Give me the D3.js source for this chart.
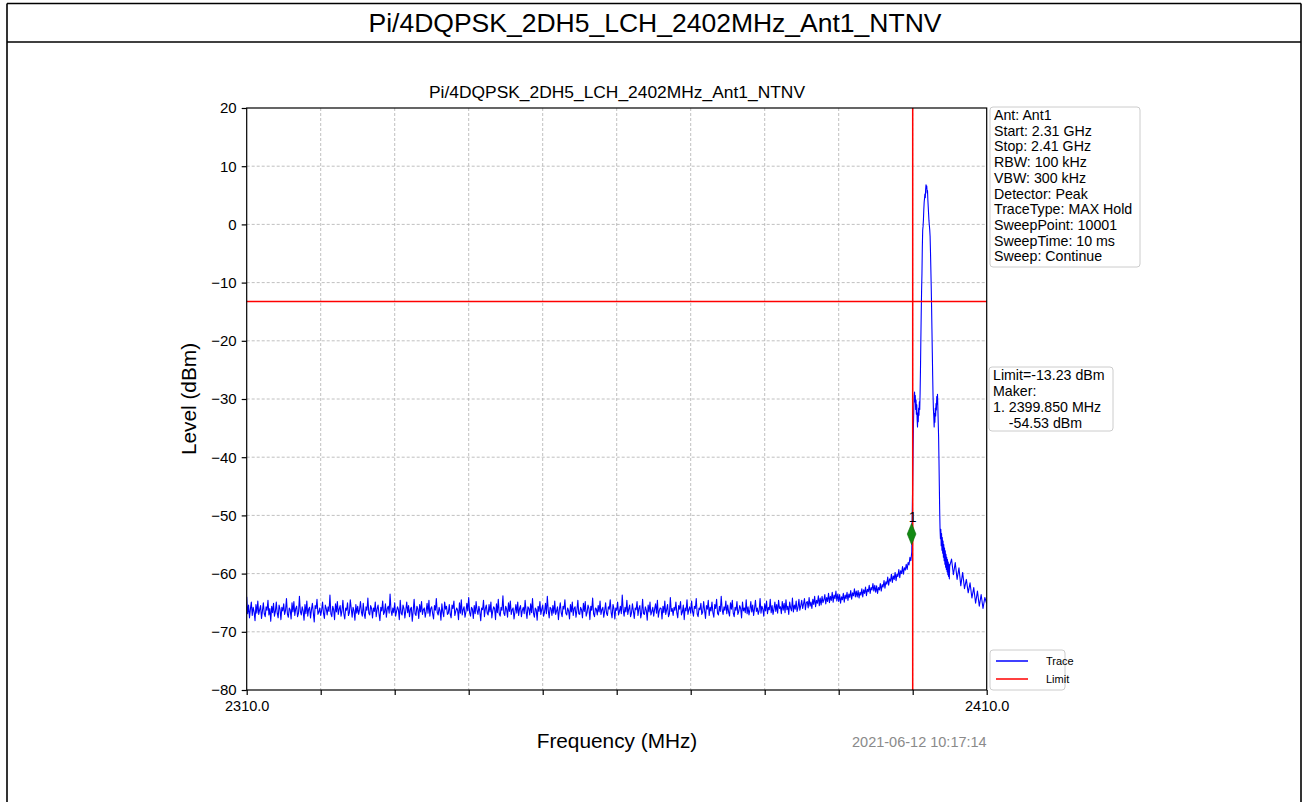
<!DOCTYPE html>
<html>
<head>
<meta charset="utf-8">
<script src="https://cdn.jsdelivr.net/npm/d3@7"></script>
<style>
  html, body { margin: 0; padding: 0; background: #fff; }
  svg { display: block; font-family: "Liberation Sans", Arial, Helvetica, sans-serif; }
</style>
</head>
<body>
<svg id="chart" width="1308" height="802"></svg>
<script>
// ---------------- DATA ----------------
const pageTitle = "Pi/4DQPSK_2DH5_LCH_2402MHz_Ant1_NTNV";
const chartTitle = "Pi/4DQPSK_2DH5_LCH_2402MHz_Ant1_NTNV";
const xLabel = "Frequency (MHz)";
const yLabel = "Level (dBm)";
const timestamp = "2021-06-12 10:17:14";

const xDomain = [2310, 2410];
const yDomain = [-80, 20];
const xTicks = [2310, 2320, 2330, 2340, 2350, 2360, 2370, 2380, 2390, 2400, 2410];
const xTickLabels = ["2310.0", "", "", "", "", "", "", "", "", "", "2410.0"];
const yTicks = [-80, -70, -60, -50, -40, -30, -20, -10, 0, 10, 20];

const limitLevel = -13.23;
const bandEdgeFreq = 2400.0;
const markerFreq = [2399.85];
const markerLevel = [-53.2];
const markerLabel = ["1"];

const infoLines = ["Ant: Ant1", "Start: 2.31 GHz", "Stop: 2.41 GHz", "RBW: 100 kHz", "VBW: 300 kHz",
  "Detector: Peak", "TraceType: MAX Hold", "SweepPoint: 10001", "SweepTime: 10 ms", "Sweep: Continue"];
const limitLines = ["Limit=-13.23 dBm", "Maker:", "1. 2399.850 MHz", "    -54.53 dBm"];
const legendNames = ["Trace", "Limit"];

// Trace, segment 1 (noise floor): 2310.000 .. 2399.875 MHz, 0.125 MHz apart
const lowStart = 2310, lowStep = 0.125;
const lowLevels = [
  -64.0,-66.9,-65.4,-67.6,-66.1,-64.9,-67.2,-65.8,-66.6,-68.1,-65.3,-66.8,-64.7,-67.0,-66.2,-65.5,-67.7,-66.4,-65.0,-66.9,
  -67.4,-65.7,-66.3,-64.6,-67.1,-66.0,-68.2,-65.6,-66.7,-65.1,-67.3,-66.5,-64.9,-66.8,-67.6,-65.4,-66.1,-67.9,-65.8,-66.4,
  -65.2,-67.0,-66.3,-64.3,-66.9,-67.5,-65.9,-66.2,-67.8,-65.0,-66.6,-64.8,-67.2,-66.0,-65.6,-67.4,-66.8,-63.9,-66.5,-67.1,
  -65.7,-66.4,-68.0,-65.3,-66.9,-64.7,-67.3,-66.1,-65.8,-67.6,-66.2,-65.1,-66.7,-68.3,-65.5,-66.0,-64.4,-67.0,-66.6,-65.9,
  -67.2,-66.3,-64.9,-66.8,-67.7,-65.4,-66.0,-67.1,-65.7,-66.5,-63.7,-66.9,-67.4,-65.6,-66.2,-67.9,-65.2,-66.6,-64.8,-67.0,
  -66.1,-65.5,-67.3,-66.4,-64.6,-66.9,-67.8,-65.9,-66.3,-65.0,-67.2,-66.7,-64.5,-66.0,-67.5,-65.8,-66.4,-68.0,-65.3,-66.8,
  -65.6,-67.0,-66.2,-64.8,-66.6,-67.3,-65.1,-66.9,-67.7,-65.7,-66.3,-64.2,-66.8,-67.1,-65.5,-66.0,-67.6,-65.9,-66.5,-64.9,
  -67.4,-66.1,-65.4,-66.9,-68.1,-65.8,-66.4,-64.7,-67.0,-66.6,-65.2,-67.5,-66.0,-65.6,-66.8,-63.5,-66.3,-67.2,-65.9,-66.7,
  -65.0,-67.3,-66.5,-65.7,-66.2,-67.9,-64.6,-66.8,-67.1,-65.4,-66.0,-67.6,-66.3,-64.9,-66.7,-65.5,-67.4,-66.1,-65.8,-68.2,
  -66.4,-64.4,-66.9,-67.2,-65.6,-66.1,-67.7,-65.3,-66.6,-64.8,-67.0,-66.2,-65.9,-67.5,-66.5,-65.1,-66.8,-64.6,-67.3,-66.0,
  -65.7,-66.9,-67.8,-65.5,-66.3,-64.3,-66.7,-67.1,-65.8,-66.4,-68.0,-65.2,-66.6,-67.4,-64.9,-66.1,-65.6,-67.0,-66.8,-65.3,
  -66.9,-67.6,-65.4,-66.0,-64.7,-67.2,-66.5,-65.9,-66.3,-67.9,-65.0,-66.8,-64.5,-67.1,-66.2,-65.7,-67.5,-66.6,-65.1,-66.4,
  -64.1,-66.7,-67.3,-65.8,-66.1,-67.7,-65.5,-66.9,-64.8,-66.3,-67.0,-65.6,-66.5,-68.1,-65.9,-66.2,-64.6,-67.4,-66.0,-65.4,
  -66.8,-67.1,-65.3,-66.6,-64.9,-67.6,-66.4,-65.7,-66.0,-67.9,-65.2,-66.7,-64.4,-66.9,-67.3,-65.8,-66.3,-63.8,-66.8,-67.2,
  -65.6,-66.1,-67.5,-65.0,-66.5,-64.7,-67.0,-66.2,-65.9,-67.8,-66.6,-65.3,-66.8,-64.9,-67.2,-66.0,-65.5,-67.4,-66.3,-65.8,
  -66.9,-64.6,-66.4,-67.7,-65.7,-66.0,-67.1,-65.2,-66.7,-64.3,-66.8,-67.5,-65.9,-66.2,-68.0,-65.6,-66.5,-64.8,-67.0,-66.1,
  -65.4,-67.3,-66.6,-65.1,-66.9,-63.9,-66.3,-67.6,-65.8,-66.0,-67.2,-65.5,-66.8,-64.7,-67.0,-66.4,-65.7,-67.9,-66.2,-65.0,
  -66.7,-67.4,-65.6,-66.1,-64.5,-66.8,-67.1,-65.9,-66.4,-67.8,-65.3,-66.6,-64.9,-67.2,-66.0,-65.7,-67.5,-66.3,-64.6,-66.9,
  -67.0,-65.8,-66.2,-67.6,-65.1,-66.5,-64.8,-67.3,-66.7,-65.4,-66.0,-67.9,-65.6,-66.3,-64.2,-66.9,-67.4,-65.9,-66.1,-67.1,
  -65.5,-66.6,-64.7,-67.0,-66.2,-65.8,-67.5,-66.4,-65.0,-66.8,-67.2,-65.7,-66.1,-64.5,-66.7,-67.6,-65.3,-66.0,-67.8,-65.9,
  -66.3,-64.9,-67.1,-66.5,-65.6,-66.9,-63.7,-66.2,-67.3,-65.8,-66.6,-64.6,-67.0,-66.1,-65.4,-67.4,-66.8,-65.2,-66.4,-67.7,
  -65.9,-66.2,-64.8,-67.2,-66.0,-65.5,-67.6,-66.7,-64.4,-66.9,-67.0,-65.7,-66.3,-68.0,-65.4,-66.6,-64.9,-67.1,-66.5,-65.8,
  -67.3,-66.1,-65.2,-66.8,-64.6,-67.5,-66.4,-65.9,-66.0,-67.8,-65.6,-66.7,-64.7,-67.0,-66.2,-65.3,-67.4,-66.9,-64.1,-66.5,
  -66.0,-67.2,-65.8,-66.3,-64.9,-66.7,-67.6,-65.5,-66.1,-64.8,-67.1,-66.6,-65.4,-67.9,-65.9,-66.4,-64.5,-67.0,-66.2,-65.7,
  -66.8,-64.7,-66.5,-67.3,-65.6,-66.0,-64.3,-66.9,-67.4,-65.9,-66.2,-65.1,-67.0,-66.6,-64.8,-66.3,-67.7,-65.5,-66.1,-64.6,
  -67.2,-65.8,-66.4,-64.9,-66.7,-67.5,-65.3,-66.0,-64.4,-66.8,-67.1,-65.6,-66.5,-63.9,-66.2,-67.0,-65.7,-66.3,-64.7,-66.9,
  -65.4,-66.6,-67.3,-65.0,-66.1,-64.6,-66.8,-67.4,-65.8,-66.3,-64.8,-67.0,-66.5,-65.5,-66.0,-67.6,-64.9,-66.4,-65.9,-66.7,
  -64.5,-66.9,-65.7,-67.1,-66.2,-64.8,-66.6,-65.4,-67.2,-66.0,-64.6,-66.5,-65.9,-67.0,-66.3,-64.3,-66.8,-65.6,-66.1,-67.3,
  -65.2,-66.4,-64.7,-66.9,-65.8,-66.2,-64.4,-66.7,-65.5,-67.0,-66.1,-64.9,-66.5,-65.3,-66.8,-64.6,-66.0,-65.7,-66.9,-64.8,
  -66.3,-65.1,-66.7,-64.5,-66.2,-65.6,-67.0,-64.9,-65.9,-66.4,-64.2,-66.6,-65.4,-66.1,-64.7,-66.5,-65.8,-64.4,-66.3,-65.5,
  -64.6,-66.0,-65.2,-64.3,-66.2,-65.0,-64.8,-65.9,-64.1,-65.6,-64.9,-66.0,-64.4,-65.3,-63.9,-65.7,-64.6,-65.1,-63.8,-65.5,
  -64.2,-65.4,-63.9,-65.0,-64.5,-63.6,-65.2,-64.1,-64.8,-63.4,-65.0,-63.9,-64.6,-63.2,-64.9,-63.7,-64.3,-63.0,-64.7,-63.5,
  -64.8,-63.6,-65.1,-64.0,-64.5,-63.4,-64.9,-63.7,-64.3,-63.2,-64.6,-63.5,-64.1,-62.9,-64.4,-63.3,-63.8,-62.6,-64.0,-63.0,
  -64.0,-62.9,-64.2,-63.2,-63.7,-62.6,-64.0,-62.8,-63.4,-62.3,-63.8,-62.7,-63.1,-62.0,-63.4,-62.4,-62.8,-61.7,-63.0,-62.0,
  -63.2,-62.1,-63.4,-62.4,-62.8,-61.7,-63.0,-61.9,-62.3,-61.2,-62.5,-61.4,-61.8,-60.6,-62.0,-60.9,-61.3,-60.1,-61.5,-60.4,
  -61.0,-59.8,-61.2,-60.1,-60.5,-59.3,-60.7,-59.5,-60.0,-58.8,-60.1,-59.0,-59.4,-58.4,-59.3,-58.1,-58.5,-57.2,-57.8,-56.3
];

// Trace, segment 2 (signal): 2399.90 .. 2405.00 MHz, 0.05 MHz apart
const peakStart = 2399.90, peakStep = 0.05;
const peakLevels = [
  -52.5,-49.0,-44.0,-39.0,-34.5,-31.5,-29.5,-28.8,
  -30.5,-29.4,-31.8,-30.2,-32.6,-31.0,-33.5,-34.8,-32.4,-33.9,
  -31.6,-32.8,-30.5,-31.8,-29.0,-25.0,-20.0,-15.5,-11.5,-8.5,
  -4.0,-1.0,-0.3,0.8,2.5,3.8,4.5,5.2,4.6,6.0,
  6.8,6.2,6.6,5.4,5.8,4.2,3.0,1.8,0.6,-0.2,
  -0.9,-2.0,-4.5,-7.5,-10.5,-14.0,-18.0,-22.0,-26.0,-29.5,
  -31.8,-33.0,-34.8,-32.5,-34.0,-31.6,-32.9,-30.8,-31.9,-29.6,
  -30.9,-29.2,-31.5,-34.0,-36.5,-40.5,-45.0,-49.5,-52.5,-54.0,
  -52.4,-55.2,-53.1,-56.0,-53.8,-56.5,-54.4,-57.2,-55.0,-57.8,
  -55.6,-58.4,-56.1,-58.9,-56.7,-59.3,-57.2,-59.7,-57.6,-60.2,
  -58.0,-60.5,-58.4,-60.9,-58.7
];

// Trace, segment 3: 2405.25 .. 2410.00 MHz, 0.25 MHz apart
const highStart = 2405.25, highStep = 0.25;
const highLevels = [
  -57.5,-60.2,-58.1,-61.0,-59.0,-62.1,-59.8,-62.6,-61.0,-63.3,
  -61.6,-64.2,-62.4,-65.1,-63.0,-65.6,-63.6,-66.0,-64.1,-65.2
];

// ---------------- DRAW ----------------
const trace = [];
lowLevels.forEach((v, i) => trace.push({ f: lowStart + i * lowStep, v }));
peakLevels.forEach((v, i) => trace.push({ f: peakStart + i * peakStep, v }));
highLevels.forEach((v, i) => trace.push({ f: highStart + i * highStep, v }));

const svg = d3.select("#chart");
const W = 1308, H = 802;

// page frame and title
svg.append("rect").attr("x", 0).attr("y", 0).attr("width", W).attr("height", H).attr("fill", "#fff");
const frame = svg.append("g").attr("stroke", "#000").attr("stroke-width", 1.6).attr("fill", "none");
frame.append("line").attr("x1", 7).attr("x2", 1301).attr("y1", 3.5).attr("y2", 3.5);
frame.append("line").attr("x1", 7).attr("x2", 1301).attr("y1", 42).attr("y2", 42);
frame.append("line").attr("x1", 7).attr("x2", 7).attr("y1", 3.5).attr("y2", H + 2);
frame.append("line").attr("x1", 1301).attr("x2", 1301).attr("y1", 3.5).attr("y2", H + 2);
svg.append("text").attr("x", 655).attr("y", 32).attr("text-anchor", "middle")
  .attr("font-size", 26.5).attr("fill", "#000").text(pageTitle);

const plot = { left: 246.7, right: 986.7, top: 108, bottom: 690 };
const x = d3.scaleLinear().domain(xDomain).range([plot.left, plot.right]);
const y = d3.scaleLinear().domain(yDomain).range([plot.bottom, plot.top]);

// grid
const grid = svg.append("g").attr("stroke", "#b0b0b0").attr("stroke-width", 0.8).attr("stroke-dasharray", "3,2");
grid.selectAll(".gx").data(xTicks.slice(1, -1)).join("line")
  .attr("x1", d => x(d)).attr("x2", d => x(d)).attr("y1", plot.top).attr("y2", plot.bottom);
grid.selectAll(".gy").data(yTicks.slice(1, -1)).join("line")
  .attr("y1", d => y(d)).attr("y2", d => y(d)).attr("x1", plot.left).attr("x2", plot.right);

// clip
svg.append("clipPath").attr("id", "clip").append("rect")
  .attr("x", plot.left).attr("y", plot.top).attr("width", plot.right - plot.left).attr("height", plot.bottom - plot.top);

// trace
const line = d3.line().x(d => x(d.f)).y(d => y(d.v));
svg.append("path").datum(trace).attr("clip-path", "url(#clip)")
  .attr("fill", "none").attr("stroke", "#0000ff").attr("stroke-width", 1.1).attr("stroke-linejoin", "round")
  .attr("d", line);

// limit and band edge
svg.append("line").attr("x1", plot.left).attr("x2", plot.right)
  .attr("y1", y(limitLevel)).attr("y2", y(limitLevel))
  .attr("stroke", "#ff0000").attr("stroke-width", 1.5);
svg.append("line").attr("x1", x(bandEdgeFreq)).attr("x2", x(bandEdgeFreq))
  .attr("y1", plot.top).attr("y2", plot.bottom).attr("stroke", "#ff0000").attr("stroke-width", 1.5);

// marker
const diamond = d3.symbol().type(d3.symbolDiamond).size(90);
svg.selectAll(".mk").data(markerFreq).join("path")
  .attr("transform", (d, i) => `translate(${x(d)},${y(markerLevel[i])}) scale(0.85,1.2)`)
  .attr("d", diamond).attr("fill", "#138a13").attr("stroke", "#0b6b0b").attr("stroke-width", 0.6);
svg.selectAll(".mkl").data(markerFreq).join("text")
  .attr("x", d => x(d) + 1).attr("y", (d, i) => y(markerLevel[i]) - 12)
  .attr("text-anchor", "middle").attr("font-size", 14).attr("fill", "#000").text((d, i) => markerLabel[i]);

// spines
const sp = svg.append("g").attr("stroke", "#000").attr("stroke-width", 1.2).attr("fill", "none");
sp.append("rect").attr("x", plot.left).attr("y", plot.top)
  .attr("width", plot.right - plot.left).attr("height", plot.bottom - plot.top);

// axes
const yAxis = d3.axisLeft(y).tickValues(yTicks).tickSize(5).tickPadding(5).tickFormat(d3.format("d"));
const gy = svg.append("g").attr("transform", `translate(${plot.left},0)`).call(yAxis);
gy.select(".domain").remove();
gy.selectAll(".tick line").attr("stroke", "#000").attr("stroke-width", 1.2);
gy.selectAll("text").attr("font-size", 15).attr("fill", "#000").attr("font-family", "Liberation Sans, Arial, sans-serif");

const xAxis = d3.axisBottom(x).tickValues(xTicks).tickSize(5).tickPadding(6)
  .tickFormat((d, i) => xTickLabels[i]);
const gx = svg.append("g").attr("transform", `translate(0,${plot.bottom})`).call(xAxis);
gx.select(".domain").remove();
gx.selectAll(".tick line").attr("stroke", "#000").attr("stroke-width", 1.2);
gx.selectAll("text").attr("font-size", 14.5).attr("fill", "#000").attr("font-family", "Liberation Sans, Arial, sans-serif");

// titles and labels
svg.append("text").attr("x", 617).attr("y", 98).attr("text-anchor", "middle")
  .attr("font-size", 17.4).attr("fill", "#000").text(chartTitle);
svg.append("text").attr("x", 617).attr("y", 748).attr("text-anchor", "middle")
  .attr("font-size", 20.8).attr("fill", "#000").text(xLabel);
svg.append("text").attr("transform", `translate(196,${(plot.top + plot.bottom) / 2}) rotate(-90)`)
  .attr("text-anchor", "middle").attr("font-size", 20.8).attr("fill", "#000").text(yLabel);
svg.append("text").attr("x", plot.right).attr("y", 747).attr("text-anchor", "end")
  .attr("font-size", 14.5).attr("fill", "#8a8a8a").text(timestamp);

// info boxes
function textBox(lines, bx, by, bw, bh, lineH, fs) {
  const g = svg.append("g");
  g.append("rect").attr("x", bx).attr("y", by).attr("width", bw).attr("height", bh).attr("rx", 3)
    .attr("fill", "#fff").attr("stroke", "#cccccc").attr("stroke-width", 1);
  g.selectAll("text").data(lines).join("text")
    .attr("x", bx + 4).attr("y", (d, i) => by + 13 + i * lineH)
    .attr("font-size", fs).attr("fill", "#000").attr("xml:space", "preserve").style("white-space", "pre").text(d => d);
}
textBox(infoLines, 990, 107, 150, 160, 15.7, 14.2);
textBox(limitLines, 989, 367, 124, 64, 16, 14.2);

// legend
const lg = svg.append("g");
lg.append("rect").attr("x", 990).attr("y", 650).attr("width", 75).attr("height", 40).attr("rx", 3)
  .attr("fill", "#fff").attr("stroke", "#cccccc").attr("stroke-width", 1);
const legendColors = ["#0000ff", "#ff0000"];
legendNames.forEach((n, i) => {
  lg.append("line").attr("x1", 996).attr("x2", 1028).attr("y1", 661 + i * 18).attr("y2", 661 + i * 18)
    .attr("stroke", legendColors[i]).attr("stroke-width", 1.5);
  lg.append("text").attr("x", 1046).attr("y", 665 + i * 18).attr("font-size", 11).attr("fill", "#000").text(n);
});
</script>
</body>
</html>
